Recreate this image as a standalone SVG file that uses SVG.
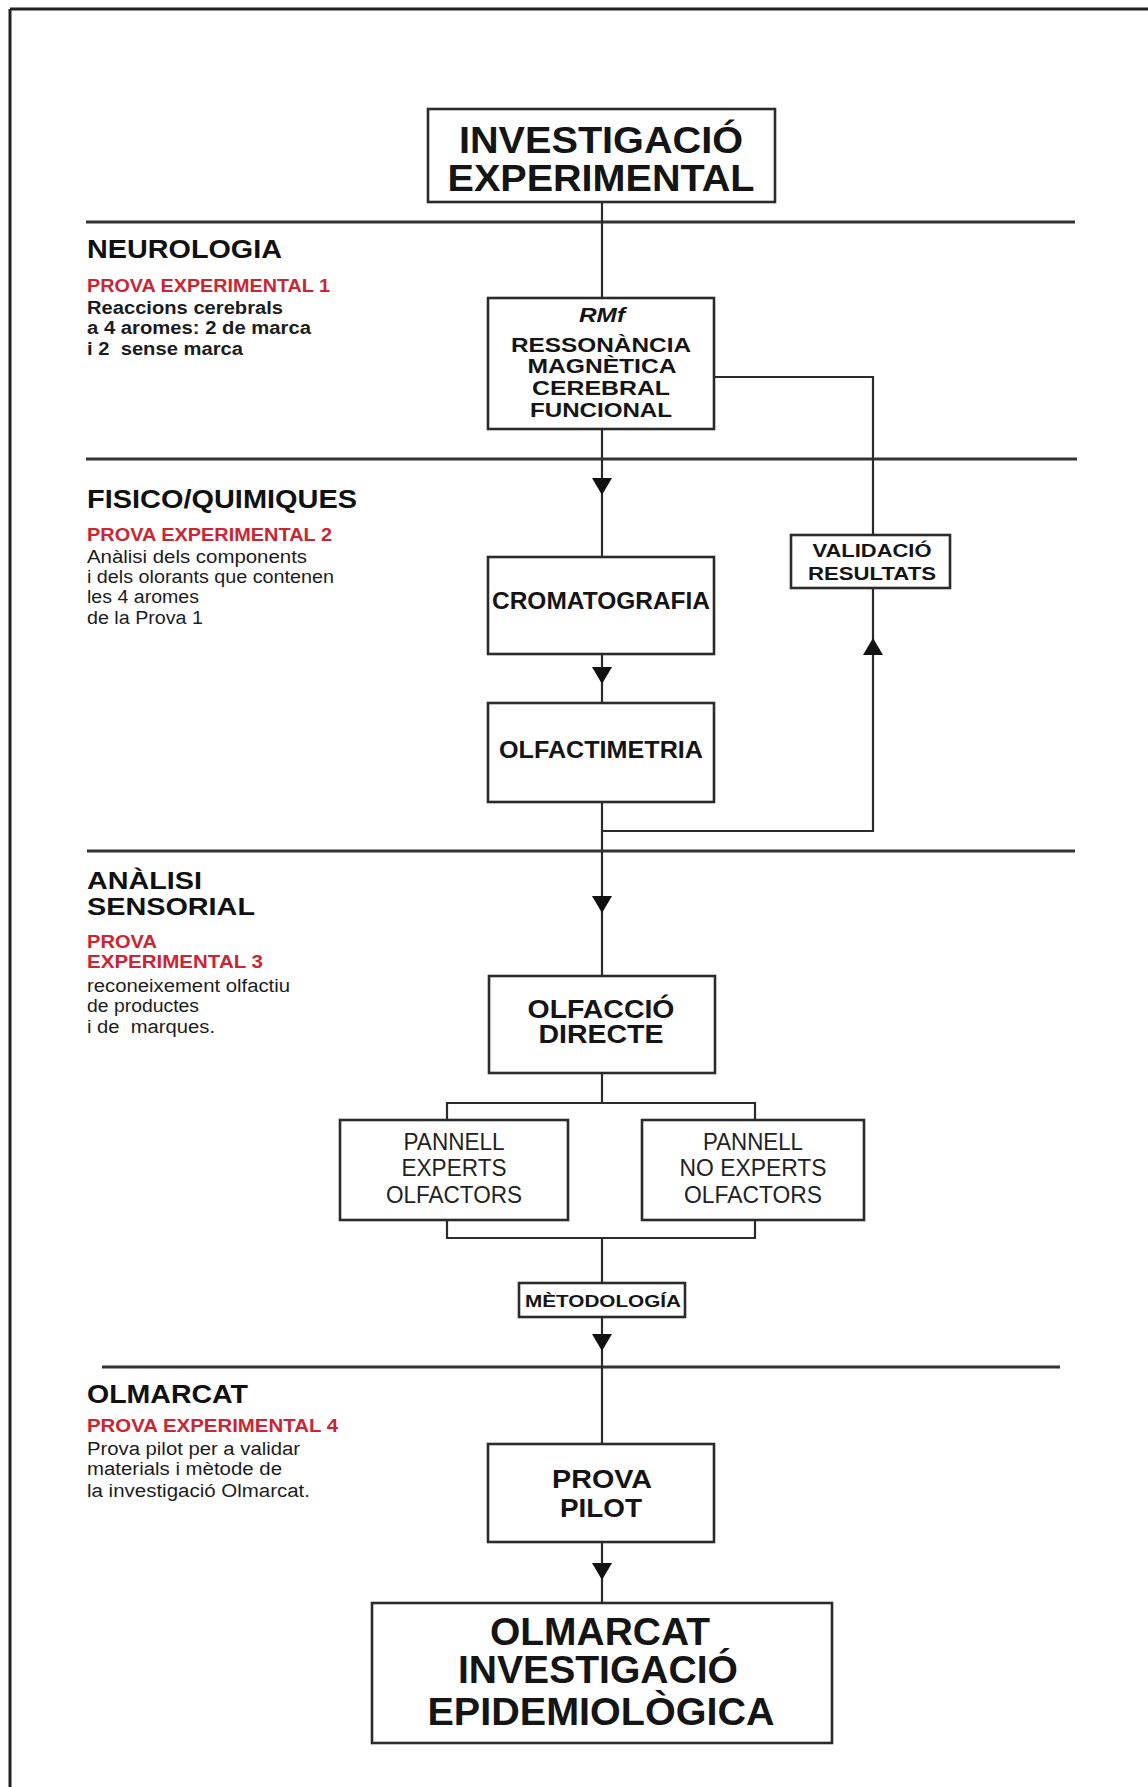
<svg xmlns="http://www.w3.org/2000/svg" xmlns:xlink="http://www.w3.org/1999/xlink" width="1148" height="1787" viewBox="0 0 1148 1787">
  <style>
    .box { fill: #ffffff; stroke: #2b2b2b; stroke-width: 2.6; }
    .sep { stroke: #333333; stroke-width: 3; fill: none; }
    .frame { stroke: #222222; stroke-width: 3; fill: none; }
    .wire { stroke: #2b2b2b; stroke-width: 2.2; fill: none; }
    .hd { font-family: "Liberation Sans", Arial, sans-serif; font-weight: bold; fill: #111111; }
    .bx { font-family: "Liberation Sans", Arial, sans-serif; font-weight: bold; fill: #151515; text-anchor: middle; }
    .pn { font-family: "Liberation Sans", Arial, sans-serif; font-weight: normal; fill: #222222; text-anchor: middle; }
    .red { font-family: "Liberation Sans", Arial, sans-serif; font-weight: bold; fill: #cf2332; font-size: 18px; }
    .body { font-family: "Liberation Sans", Arial, sans-serif; fill: #1c1c1c; font-size: 18px; }
    .bodyb { font-family: "Liberation Sans", Arial, sans-serif; font-weight: bold; fill: #1c1c1c; font-size: 18px; }
  </style>
  <defs>
    <polygon id="arrow-down" points="-10,0 10,0 0,17" fill="#111111"/>
    <polygon id="arrow-up" points="-10,0 10,0 0,-17" fill="#111111"/>
  </defs>

  <rect x="0" y="0" width="1148" height="1787" fill="#ffffff"/>

  <!-- page frame -->
  <g id="frame">
    <line class="frame" x1="10" y1="9" x2="1148" y2="9"/>
    <line class="frame" x1="10" y1="9" x2="10" y2="1787"/>
  </g>

  <!-- section separators -->
  <g id="separators">
    <line class="sep" x1="86" y1="222" x2="1075" y2="222"/>
    <line class="sep" x1="86" y1="459" x2="1077" y2="459"/>
    <line class="sep" x1="87" y1="851" x2="1075" y2="851"/>
    <line class="sep" x1="102" y1="1367" x2="1060" y2="1367"/>
  </g>

  <!-- connectors -->
  <g id="connectors">
    <line class="wire" x1="602" y1="202" x2="602" y2="298"/>
    <line class="wire" x1="602" y1="429" x2="602" y2="557"/>
    <use xlink:href="#arrow-down" x="602" y="478"/>
    <line class="wire" x1="602" y1="654" x2="602" y2="703"/>
    <use xlink:href="#arrow-down" x="602" y="667"/>
    <line class="wire" x1="602" y1="802" x2="602" y2="976"/>
    <use xlink:href="#arrow-down" x="602" y="896"/>
    <polyline class="wire" points="714,377 873,377 873,535"/>
    <polyline class="wire" points="602,831 873,831 873,588"/>
    <use xlink:href="#arrow-up" x="873" y="655"/>
    <line class="wire" x1="602" y1="1073" x2="602" y2="1103"/>
    <polyline class="wire" points="447,1120 447,1103 755,1103 755,1120"/>
    <polyline class="wire" points="447,1220 447,1238 755,1238 755,1220"/>
    <line class="wire" x1="602" y1="1238" x2="602" y2="1283"/>
    <line class="wire" x1="602" y1="1317" x2="602" y2="1444"/>
    <use xlink:href="#arrow-down" x="602" y="1334"/>
    <line class="wire" x1="602" y1="1542" x2="602" y2="1603"/>
    <use xlink:href="#arrow-down" x="602" y="1563"/>
  </g>

  <!-- section captions -->
  <g id="section-neurologia">
    <text class="hd" x="87" y="258" font-size="26" textLength="195" lengthAdjust="spacingAndGlyphs">NEUROLOGIA</text>
    <text class="red" x="87" y="292" textLength="243" lengthAdjust="spacingAndGlyphs">PROVA EXPERIMENTAL 1</text>
    <text class="bodyb" x="87" y="314" textLength="196" lengthAdjust="spacingAndGlyphs">Reaccions cerebrals</text>
    <text class="bodyb" x="87" y="334" textLength="224" lengthAdjust="spacingAndGlyphs">a 4 aromes: 2 de marca</text>
    <text class="bodyb" x="87" y="355" textLength="156" lengthAdjust="spacingAndGlyphs" xml:space="preserve">i 2  sense marca</text>
  </g>

  <g id="section-fisicoquimiques">
    <text class="hd" x="87" y="508" font-size="26" textLength="270" lengthAdjust="spacingAndGlyphs">FISICO/QUIMIQUES</text>
    <text class="red" x="87" y="541" textLength="245" lengthAdjust="spacingAndGlyphs">PROVA EXPERIMENTAL 2</text>
    <text class="body" x="87" y="563" textLength="220" lengthAdjust="spacingAndGlyphs">Anàlisi dels components</text>
    <text class="body" x="87" y="583" textLength="247" lengthAdjust="spacingAndGlyphs">i dels olorants que contenen</text>
    <text class="body" x="87" y="603" textLength="112" lengthAdjust="spacingAndGlyphs">les 4 aromes</text>
    <text class="body" x="87" y="624" textLength="116" lengthAdjust="spacingAndGlyphs">de la Prova 1</text>
  </g>

  <g id="section-sensorial">
    <text class="hd" x="87" y="889" font-size="24" textLength="115" lengthAdjust="spacingAndGlyphs">ANÀLISI</text>
    <text class="hd" x="87" y="915" font-size="24" textLength="168" lengthAdjust="spacingAndGlyphs">SENSORIAL</text>
    <text class="red" x="87" y="948" textLength="70" lengthAdjust="spacingAndGlyphs">PROVA</text>
    <text class="red" x="87" y="968" textLength="176" lengthAdjust="spacingAndGlyphs">EXPERIMENTAL 3</text>
    <text class="body" x="87" y="992" textLength="203" lengthAdjust="spacingAndGlyphs">reconeixement olfactiu</text>
    <text class="body" x="87" y="1012" textLength="112" lengthAdjust="spacingAndGlyphs">de productes</text>
    <text class="body" x="87" y="1033" textLength="128" lengthAdjust="spacingAndGlyphs" xml:space="preserve">i de  marques.</text>
  </g>

  <g id="section-olmarcat">
    <text class="hd" x="87" y="1403" font-size="26" textLength="161" lengthAdjust="spacingAndGlyphs">OLMARCAT</text>
    <text class="red" x="87" y="1432" textLength="251" lengthAdjust="spacingAndGlyphs">PROVA EXPERIMENTAL 4</text>
    <text class="body" x="87" y="1455" textLength="213" lengthAdjust="spacingAndGlyphs">Prova pilot per a validar</text>
    <text class="body" x="87" y="1475" textLength="195" lengthAdjust="spacingAndGlyphs">materials i mètode de</text>
    <text class="body" x="87" y="1497" textLength="223" lengthAdjust="spacingAndGlyphs">la investigació Olmarcat.</text>
  </g>

  <!-- nodes -->
  <g id="node-investigacio">
    <rect class="box" x="428" y="109" width="347" height="93"/>
    <text class="bx" x="601" y="153" font-size="37" textLength="284" lengthAdjust="spacingAndGlyphs">INVESTIGACIÓ</text>
    <text class="bx" x="601" y="191" font-size="37" textLength="307" lengthAdjust="spacingAndGlyphs">EXPERIMENTAL</text>
  </g>

  <g id="node-rmf">
    <rect class="box" x="488" y="298" width="226" height="131"/>
    <text class="bx" x="602" y="322" font-size="20" font-style="italic" textLength="46" lengthAdjust="spacingAndGlyphs">RMf</text>
    <text class="bx" x="601" y="352" font-size="21" textLength="180" lengthAdjust="spacingAndGlyphs">RESSONÀNCIA</text>
    <text class="bx" x="602" y="373" font-size="21" textLength="149" lengthAdjust="spacingAndGlyphs">MAGNÈTICA</text>
    <text class="bx" x="601" y="395" font-size="21" textLength="138" lengthAdjust="spacingAndGlyphs">CEREBRAL</text>
    <text class="bx" x="601" y="417" font-size="21" textLength="142" lengthAdjust="spacingAndGlyphs">FUNCIONAL</text>
  </g>

  <g id="node-validacio">
    <rect class="box" x="791" y="535" width="159" height="53"/>
    <text class="bx" x="872" y="557" font-size="19" textLength="119" lengthAdjust="spacingAndGlyphs">VALIDACIÓ</text>
    <text class="bx" x="872" y="580" font-size="19" textLength="128" lengthAdjust="spacingAndGlyphs">RESULTATS</text>
  </g>

  <g id="node-cromatografia">
    <rect class="box" x="488" y="557" width="226" height="97"/>
    <text class="bx" x="601" y="609" font-size="24" textLength="218" lengthAdjust="spacingAndGlyphs">CROMATOGRAFIA</text>
  </g>

  <g id="node-olfactimetria">
    <rect class="box" x="488" y="703" width="226" height="99"/>
    <text class="bx" x="601" y="758" font-size="24" textLength="204" lengthAdjust="spacingAndGlyphs">OLFACTIMETRIA</text>
  </g>

  <g id="node-olfaccio">
    <rect class="box" x="489" y="976" width="226" height="97"/>
    <text class="bx" x="601" y="1018" font-size="25" textLength="147" lengthAdjust="spacingAndGlyphs">OLFACCIÓ</text>
    <text class="bx" x="601" y="1043" font-size="25" textLength="125" lengthAdjust="spacingAndGlyphs">DIRECTE</text>
  </g>

  <g id="node-panell-experts">
    <rect class="box" x="340" y="1120" width="228" height="100"/>
    <text class="pn" x="454" y="1150" font-size="23" textLength="101" lengthAdjust="spacingAndGlyphs">PANNELL</text>
    <text class="pn" x="454" y="1176" font-size="23" textLength="105" lengthAdjust="spacingAndGlyphs">EXPERTS</text>
    <text class="pn" x="454" y="1203" font-size="23" textLength="136" lengthAdjust="spacingAndGlyphs">OLFACTORS</text>
  </g>

  <g id="node-panell-no-experts">
    <rect class="box" x="642" y="1120" width="222" height="100"/>
    <text class="pn" x="753" y="1150" font-size="23" textLength="100" lengthAdjust="spacingAndGlyphs">PANNELL</text>
    <text class="pn" x="753" y="1176" font-size="23" textLength="147" lengthAdjust="spacingAndGlyphs">NO EXPERTS</text>
    <text class="pn" x="753" y="1203" font-size="23" textLength="138" lengthAdjust="spacingAndGlyphs">OLFACTORS</text>
  </g>

  <g id="node-metodologia">
    <rect class="box" x="519" y="1283" width="166" height="34"/>
    <text class="bx" x="603" y="1307" font-size="17" textLength="156" lengthAdjust="spacingAndGlyphs">MÈTODOLOGÍA</text>
  </g>

  <g id="node-prova-pilot">
    <rect class="box" x="488" y="1444" width="226" height="98"/>
    <text class="bx" x="602" y="1488" font-size="26" textLength="100" lengthAdjust="spacingAndGlyphs">PROVA</text>
    <text class="bx" x="601" y="1517" font-size="26" textLength="82" lengthAdjust="spacingAndGlyphs">PILOT</text>
  </g>

  <g id="node-epidemiologica">
    <rect class="box" x="372" y="1603" width="460" height="140"/>
    <text class="bx" x="600" y="1645" font-size="38" textLength="220" lengthAdjust="spacingAndGlyphs">OLMARCAT</text>
    <text class="bx" x="598" y="1683" font-size="38" textLength="280" lengthAdjust="spacingAndGlyphs">INVESTIGACIÓ</text>
    <text class="bx" x="601" y="1725" font-size="38" textLength="347" lengthAdjust="spacingAndGlyphs">EPIDEMIOLÒGICA</text>
  </g>
</svg>
